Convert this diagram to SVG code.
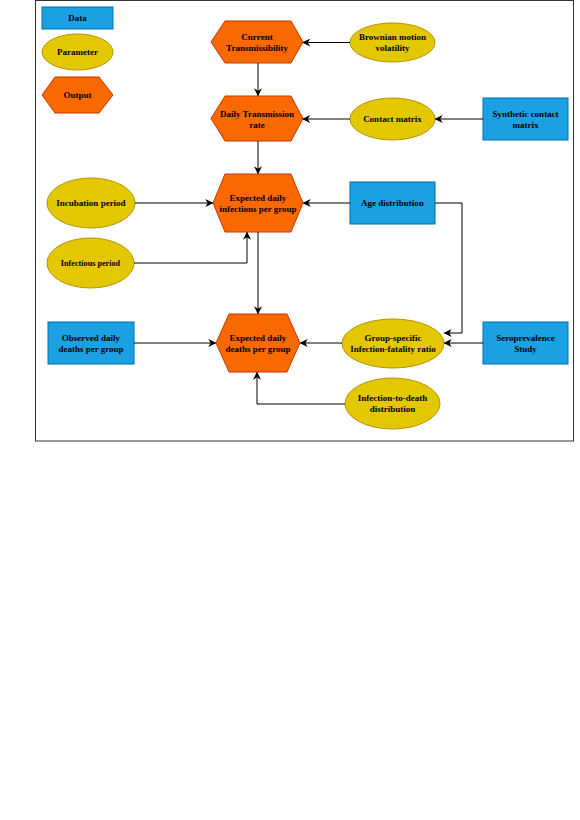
<svg xmlns="http://www.w3.org/2000/svg" width="580" height="820" viewBox="0 0 580 820">
<defs>
<marker id="arr" viewBox="0 0 10 10" refX="9" refY="5" markerWidth="8" markerHeight="8" markerUnits="userSpaceOnUse" orient="auto">
<path d="M0,0 L10,5 L0,10 L3,5 Z" fill="#000"/>
</marker>
<style>
.data{fill:#1BA1E2;stroke:#006EAF;stroke-width:1}
.par{fill:#E3C800;stroke:#B09500;stroke-width:1}
.out{fill:#FA6800;stroke:#C73500;stroke-width:1}
text{font-family:"Liberation Serif","Times New Roman",serif;font-weight:bold;font-size:9px;fill:#000;text-anchor:middle}
.edge{fill:none;stroke:#000;stroke-width:1;marker-end:url(#arr)}
</style>
</defs>
<rect x="0" y="0" width="580" height="820" fill="#fff"/>
<rect x="35.5" y="0.5" width="538" height="440.5" fill="none" stroke="#333" stroke-width="1"/>

<g id="legend-data"><rect class="data" x="42" y="7" width="71" height="22"/><text x="77.5" y="21">Data</text></g>
<g id="legend-parameter"><ellipse class="par" cx="77.5" cy="52" rx="35.5" ry="18"/><text x="77.5" y="55">Parameter</text></g>
<g id="legend-output"><polygon class="out" points="42,95 55,77 99,77 113,95 99,113 55,113"/><text x="77.5" y="98">Output</text></g>

<g id="current-transmissibility"><polygon class="out" points="211,42 225,21 291,21 303,42 291,63 225,63"/><text x="257" y="40">Current</text><text x="257" y="51">Transmissibility</text></g>
<g id="brownian"><ellipse class="par" cx="392.5" cy="42.5" rx="42.5" ry="19.5"/><text x="392.5" y="40">Brownian motion</text><text x="392.5" y="51">volatility</text></g>

<g id="daily-transmission"><polygon class="out" points="211,118.5 225,96 291,96 303,118.5 291,141 225,141"/><text x="257" y="117">Daily Transmission</text><text x="257" y="128">rate</text></g>
<g id="contact-matrix"><ellipse class="par" cx="392.5" cy="119" rx="42.5" ry="21"/><text x="392.5" y="122">Contact matrix</text></g>
<g id="synthetic-contact"><rect class="data" x="483" y="98" width="85" height="42"/><text x="525.5" y="117">Synthetic contact</text><text x="525.5" y="128">matrix</text></g>

<g id="expected-infections"><polygon class="out" points="213,203 225,174 291,174 303,203 291,232 225,232"/><text x="258" y="201">Expected daily</text><text x="258" y="212">infections per group</text></g>
<g id="incubation"><ellipse class="par" cx="91" cy="203" rx="44" ry="25"/><text x="91" y="206">Incubation period</text></g>
<g id="infectious"><ellipse class="par" cx="90.5" cy="263" rx="43.5" ry="25"/><text x="90.5" y="266" style="font-size:8.2px">Infectious period</text></g>
<g id="age-distribution"><rect class="data" x="350" y="182" width="85" height="42"/><text x="392.5" y="206">Age distribution</text></g>

<g id="expected-deaths"><polygon class="out" points="216,343 229,314 287,314 300,343 287,372 229,372"/><text x="258" y="341">Expected daily</text><text x="258" y="352">deaths per group</text></g>
<g id="observed-deaths"><rect class="data" x="48" y="322" width="86" height="42"/><text x="91" y="341">Observed daily</text><text x="91" y="352">deaths per group</text></g>
<g id="group-ifr"><ellipse class="par" cx="393" cy="343.5" rx="51" ry="24.5"/><text x="393" y="341">Group-specific</text><text x="393" y="352">Infection-fatality ratio</text></g>
<g id="seroprevalence"><rect class="data" x="483" y="322" width="85" height="42"/><text x="525.5" y="341">Seroprevalence</text><text x="525.5" y="352">Study</text></g>
<g id="infection-to-death"><ellipse class="par" cx="392.5" cy="403.5" rx="47.5" ry="25.5"/><text x="392.5" y="401">Infection-to-death</text><text x="392.5" y="412">distribution</text></g>

<g id="connectors">
<path class="edge" d="M350,42.5 H303"/>
<path class="edge" d="M258,63 V95.5"/>
<path class="edge" d="M483,119 H435.5"/>
<path class="edge" d="M350,119 H303"/>
<path class="edge" d="M258,141 V173.5"/>
<path class="edge" d="M135,203 H212.5"/>
<path class="edge" d="M134,263 H247 V232.5"/>
<path class="edge" d="M350,203 H303.5"/>
<path class="edge" d="M435,203 H462 V333 H444.5"/>
<path class="edge" d="M258,232 V313.5"/>
<path class="edge" d="M134,343 H215.5"/>
<path class="edge" d="M483,343 H444.5"/>
<path class="edge" d="M342,343 H300.5"/>
<path class="edge" d="M345,404 H257 V372.5"/>
</g>
</svg>
